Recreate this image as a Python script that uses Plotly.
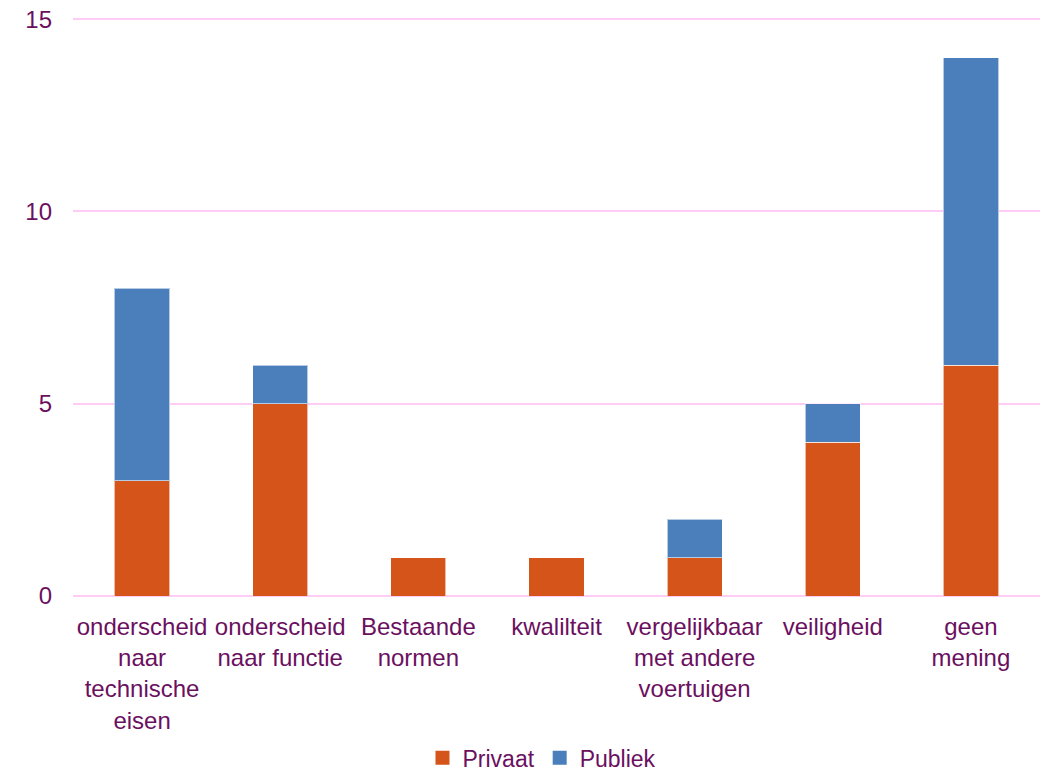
import plotly.graph_objects as go

categories = [
    "onderscheid<br>naar<br>technische<br>eisen",
    "onderscheid<br>naar functie",
    "Bestaande<br>normen",
    "kwalilteit",
    "vergelijkbaar<br>met andere<br>voertuigen",
    "veiligheid",
    "geen<br>mening",
]
privaat = [3, 5, 1, 1, 1, 4, 6]
publiek = [5, 1, 0, 0, 1, 1, 8]

ORANGE = "#D5541A"
BLUE = "#4A7FBC"
TEXT = "#6B105F"
FONT = "Liberation Sans, Arial, sans-serif"

fig = go.Figure()
fig.add_trace(go.Bar(
    x=categories, y=privaat, name="Privaat", showlegend=False,
    marker=dict(color=ORANGE, line=dict(color="rgba(255,255,255,0.6)", width=1)),
))
fig.add_trace(go.Bar(
    x=categories, y=publiek, name="Publiek", showlegend=False,
    marker=dict(color=BLUE, line=dict(color="rgba(255,255,255,0.6)", width=1)),
))
# legend entries with bigger square swatches
for name, col in [("Privaat", ORANGE), ("Publiek", BLUE)]:
    fig.add_trace(go.Scatter(
        x=[None], y=[None], mode="markers", name=name,
        marker=dict(symbol="square", size=14, color=col),
    ))

fig.update_layout(
    barmode="stack",
    bargap=0.6,
    width=1046, height=771,
    margin=dict(l=73, r=6, t=18, b=175),
    plot_bgcolor="white", paper_bgcolor="white",
    font=dict(family=FONT, size=24, color=TEXT),
    legend=dict(orientation="h", x=0.485, xanchor="center",
                yref="container", y=0.017, yanchor="middle",
                font=dict(size=23, color=TEXT), itemwidth=30, traceorder="normal"),
)
fig.update_yaxes(
    range=[0, 15.03], tickvals=[0, 5, 10, 15], showgrid=True, gridcolor="#FFCCF5", gridwidth=2,
    zeroline=True, zerolinecolor="#FFCCF5", zerolinewidth=2,
    showline=False, ticklabelstandoff=20, automargin=False, tickfont=dict(size=24),
)
fig.update_xaxes(showgrid=False, showline=False, ticklabelstandoff=14, tickangle=0,
                 automargin=False, tickfont=dict(size=24))

# drop the default 8px page margin so the figure sits at the window corner
fig.write_html("out.html", config={"displayModeBar": False},
               post_script="document.body.style.margin='0';")
